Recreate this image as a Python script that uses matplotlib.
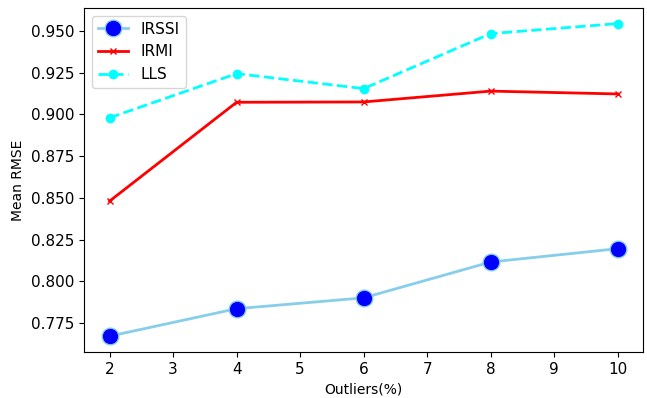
import matplotlib
matplotlib.use('Agg')
import matplotlib.pyplot as plt

# Datos
outliers = [2, 4, 6, 8, 10]
irssi = [0.767, 0.7835, 0.790, 0.8115, 0.8195]
irmi = [0.848, 0.9073, 0.9075, 0.914, 0.9123]
lls = [0.898, 0.9245, 0.9155, 0.9485, 0.9545]

fig = plt.figure(figsize=(6.47, 3.98), dpi=100)
ax = fig.add_axes([0.13, 0.116, 0.864, 0.864])

ax.plot(outliers, irssi, label='IRSSI', color='skyblue', linewidth=2,
        marker='o', markersize=12, markerfacecolor='blue', markeredgecolor='skyblue')
ax.plot(outliers, irmi, label='IRMI', color='red', linewidth=2, marker='x', markersize=5)
ax.plot(outliers, lls, label='LLS', color='cyan', linewidth=2, linestyle='--',
        marker='o', markersize=6)

ax.set_xlabel('Outliers(%)')
ax.set_ylabel('Mean RMSE')
ax.tick_params(labelsize=11)
ax.legend(loc='upper left', fontsize=11)

fig.savefig('out.png', dpi=100)
